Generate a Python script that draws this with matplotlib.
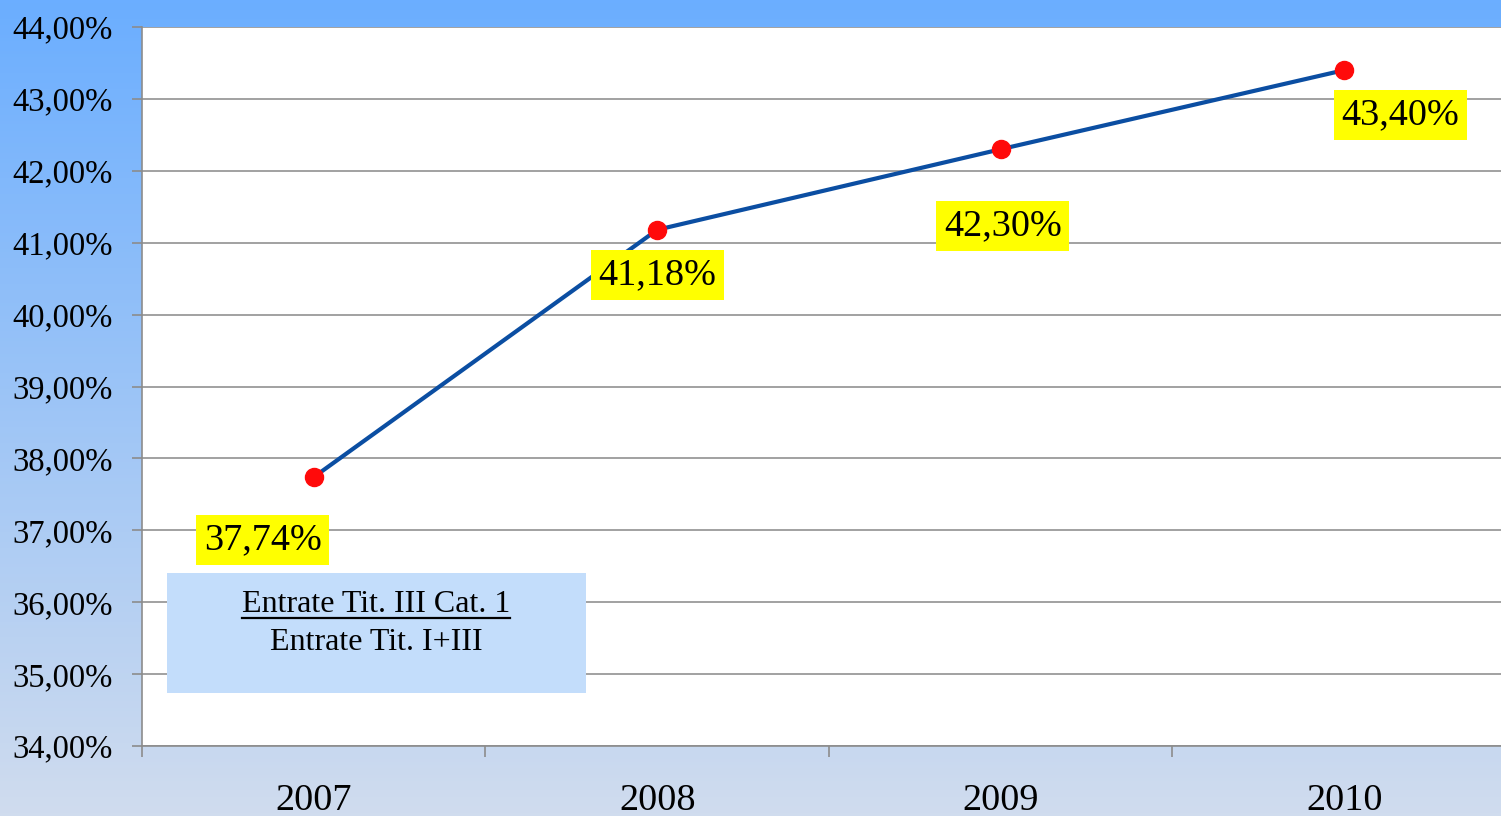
import matplotlib
matplotlib.use('Agg')
import matplotlib.pyplot as plt
from matplotlib.patches import Rectangle
from matplotlib.lines import Line2D
import numpy as np

years = ['2007', '2008', '2009', '2010']
values = [37.74, 41.18, 42.30, 43.40]
value_labels = ['37,74%', '41,18%', '42,30%', '43,40%']
y_ticks = [34, 35, 36, 37, 38, 39, 40, 41, 42, 43, 44]
y_tick_labels = ['%d,00%%' % v for v in y_ticks]

# label offsets in pixels (dx, dy) from each point
label_offsets = [(-51, -63), (0, -45), (2, -77), (56, -45)]

plt.rcParams['font.family'] = ['Liberation Serif', 'DejaVu Serif']

W, H = 1501, 816
fig = plt.figure(figsize=(W / 100, H / 100), dpi=100)

# gradient background
bg = fig.add_axes([0, 0, 1, 1], zorder=-10)
top = np.array([107, 174, 255]) / 255
bottom = np.array([208, 220, 238]) / 255
t = np.linspace(0, 1, 256)[:, None]
grad = top[None, :] * (1 - t) + bottom[None, :] * t
bg.imshow(grad[:, None, :], aspect='auto', extent=[0, 1, 0, 1])
bg.set_axis_off()

left, right = 142, 1516
y_top, y_bot = 27, 746
ax = fig.add_axes([left / W, 1 - y_bot / H, (right - left) / W, (y_bot - y_top) / H])
ax.set_facecolor('white')

x = np.arange(1, len(years) + 1)
ax.plot(x, values, color='#0b4ea2', lw=3, zorder=3, solid_capstyle='round')
ax.plot(x, values, 'o', color='#ff0a0a', ms=13, mec='#ff0a0a', zorder=4)

for xi, v, lab, (dx, dy) in zip(x, values, value_labels, label_offsets):
    ax.annotate(lab, (xi, v), xytext=(dx, dy), textcoords='offset pixels',
                ha='center', va='center', fontsize=27.5, color='black', zorder=5,
                bbox=dict(boxstyle='square,pad=0.2', fc='#ffff00', ec='none'))

ax.set_xlim(0.5, 4.5)
ax.set_ylim(34, 44)
ax.set_yticks(y_ticks)
ax.set_yticklabels(y_tick_labels, fontsize=23.5)
ax.set_xticks(x)
ax.set_xticklabels(years, fontsize=27.5)
ax.set_xticks(np.arange(0.5, 5, 1), minor=True)
ax.tick_params(axis='x', which='major', length=0, pad=27)
ax.tick_params(axis='x', which='minor', length=8, color='#8c8c8c', width=1.2)
ax.tick_params(axis='y', length=7, color='#8c8c8c', width=1.2, pad=14)
ax.grid(axis='y', color='#9a9a9a', lw=1.3, zorder=1)
for s in ['top', 'right']:
    ax.spines[s].set_visible(False)
for s in ['left', 'bottom']:
    ax.spines[s].set_color('#8c8c8c')
    ax.spines[s].set_linewidth(1.2)

# formula box
box = Rectangle((167 / W, 1 - 693 / H), (586 - 167) / W, (693 - 573) / H,
                transform=fig.transFigure, fc='#c3ddfb', ec='none', zorder=6)
fig.add_artist(box)
num = fig.text(376 / W, 1 - 604 / H, 'Entrate Tit. III Cat. 1', ha='center', va='center',
               fontsize=23, zorder=7)
fig.text(376 / W, 1 - 642 / H, 'Entrate Tit. I+III', ha='center', va='center',
         fontsize=23, zorder=7)
fig.canvas.draw()
bb = num.get_window_extent()
fig.add_artist(Line2D([bb.x0 / W, bb.x1 / W], [(H - 618) / H] * 2,
                      transform=fig.transFigure, color='black', lw=1.6, zorder=7))

fig.savefig('out.png', dpi=100)
